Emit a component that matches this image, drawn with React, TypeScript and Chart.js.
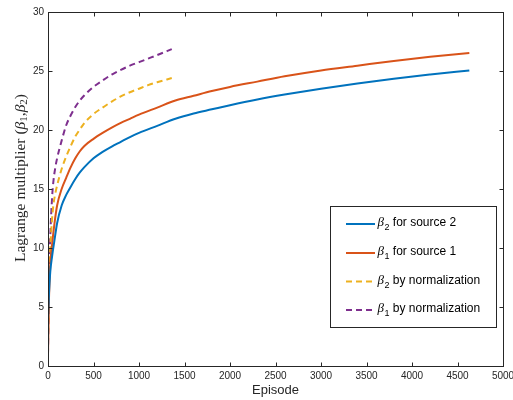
import React, { useEffect, useRef } from "react";
import { Chart, registerables } from "chart.js";

Chart.register(...registerables);

const episodesSolid = [0, 10, 25, 45, 70, 100, 150, 200, 250, 300, 350, 400, 500, 600, 700, 800, 900, 1000, 1200, 1400, 1600, 1800, 2000, 2300, 2600, 3000, 3400, 3800, 4200, 4630];
const beta2Source2 = [4.0, 6.0, 8.0, 9.3, 10.6, 12.1, 13.6, 14.5, 15.2, 15.85, 16.4, 16.85, 17.6, 18.15, 18.6, 19.0, 19.4, 19.75, 20.35, 20.95, 21.4, 21.75, 22.1, 22.58, 23.0, 23.5, 23.95, 24.35, 24.7, 25.05];
const beta1Source1 = [1.0, 5.5, 8.6, 10.3, 12.0, 13.6, 15.0, 15.95, 16.85, 17.6, 18.2, 18.65, 19.25, 19.75, 20.2, 20.6, 20.95, 21.3, 21.9, 22.5, 22.9, 23.3, 23.65, 24.1, 24.55, 25.05, 25.45, 25.85, 26.2, 26.52];

const episodesNorm = [0, 10, 25, 45, 60, 80, 100, 150, 200, 250, 300, 350, 400, 500, 600, 700, 800, 900, 1000, 1100, 1200, 1360];
const beta2Norm = [2.0, 6.5, 10.0, 12.5, 13.7, 14.6, 15.3, 16.7, 17.75, 18.65, 19.45, 20.05, 20.6, 21.35, 21.9, 22.4, 22.85, 23.2, 23.5, 23.8, 24.05, 24.4];
const beta1Norm = [1.0, 7.0, 11.0, 14.3, 15.7, 16.8, 17.6, 19.1, 20.4, 21.25, 21.95, 22.5, 22.95, 23.65, 24.2, 24.7, 25.1, 25.45, 25.75, 26.05, 26.35, 26.85];

const xTicks = [0, 500, 1000, 1500, 2000, 2500, 3000, 3500, 4000, 4500, 5000];
const yTicks = [0, 5, 10, 15, 20, 25, 30];

const legendItems = [
  { sub: "2", text: " for source 2", color: "#0072BD", dash: [] as number[] },
  { sub: "1", text: " for source 1", color: "#D95319", dash: [] as number[] },
  { sub: "2", text: " by normalization", color: "#EDB120", dash: [6, 4] },
  { sub: "1", text: " by normalization", color: "#7E2F8E", dash: [6, 4] },
];

const SANS = '"Liberation Sans", Arial, sans-serif';
const SERIF = '"Liberation Serif", "Times New Roman", serif';
const AXIS = "#262626";

const toPts = (xs: number[], ys: number[]) => xs.map((x, i) => ({ x, y: ys[i] }));

const decorPlugin = {
  id: "decor",
  afterDatasetsDraw(chart: any) {
    const ctx = chart.ctx as CanvasRenderingContext2D;
    const a = chart.chartArea;
    const xs = chart.scales.x;
    const ys = chart.scales.y;
    ctx.save();
    ctx.strokeStyle = AXIS;
    ctx.lineWidth = 1;
    ctx.setLineDash([]);
    const L = Math.round(a.left) + 0.5, R = Math.round(a.right) + 0.5;
    const T = Math.round(a.top) + 0.5, B = Math.round(a.bottom) + 0.5;
    ctx.strokeRect(L, T, R - L, B - T);
    const tl = 4;
    ctx.beginPath();
    xTicks.forEach((v) => {
      const px = Math.round(xs.getPixelForValue(v)) + 0.5;
      ctx.moveTo(px, B); ctx.lineTo(px, B - tl);
      ctx.moveTo(px, T); ctx.lineTo(px, T + tl);
    });
    yTicks.forEach((v) => {
      const py = Math.round(ys.getPixelForValue(v)) + 0.5;
      ctx.moveTo(L, py); ctx.lineTo(L + tl, py);
      ctx.moveTo(R, py); ctx.lineTo(R - tl, py);
    });
    ctx.stroke();

    ctx.fillStyle = AXIS;
    ctx.font = `13px ${SANS}`;
    ctx.textAlign = "center";
    ctx.textBaseline = "middle";
    ctx.fillText("Episode", (a.left + a.right) / 2, 390);

    const parts: { t: string; font: string; dy: number }[] = [
      { t: "Lagrange multiplier (", font: `15.5px ${SERIF}`, dy: 0 },
      { t: "β", font: `italic 15.5px ${SERIF}`, dy: 0 },
      { t: "1", font: `11px ${SERIF}`, dy: 3.5 },
      { t: ",", font: `15.5px ${SERIF}`, dy: 0 },
      { t: "β", font: `italic 15.5px ${SERIF}`, dy: 0 },
      { t: "2", font: `11px ${SERIF}`, dy: 3.5 },
      { t: ")", font: `15.5px ${SERIF}`, dy: 0 },
    ];
    let total = 0;
    parts.forEach((p) => { ctx.font = p.font; total += ctx.measureText(p.t).width; });
    ctx.save();
    ctx.translate(21, 178);
    ctx.rotate(-Math.PI / 2);
    ctx.textAlign = "left";
    ctx.textBaseline = "middle";
    let cx = -total / 2;
    parts.forEach((p) => {
      ctx.font = p.font;
      ctx.fillText(p.t, cx, p.dy);
      cx += ctx.measureText(p.t).width;
    });
    ctx.restore();

    const bx = 330.5, by = 206.5, bw = 166, bh = 121;
    ctx.fillStyle = "#ffffff";
    ctx.fillRect(bx, by, bw, bh);
    ctx.strokeStyle = AXIS;
    ctx.lineWidth = 1;
    ctx.strokeRect(bx, by, bw, bh);
    const rowY = [224, 253, 281.5, 310];
    legendItems.forEach((it, i) => {
      const y = rowY[i];
      ctx.strokeStyle = it.color;
      ctx.lineWidth = 2;
      ctx.setLineDash(it.dash);
      ctx.beginPath();
      ctx.moveTo(346, y);
      ctx.lineTo(375, y);
      ctx.stroke();
      ctx.setLineDash([]);
      ctx.fillStyle = "#000000";
      ctx.textAlign = "left";
      ctx.textBaseline = "middle";
      let x = 377.5;
      ctx.font = `italic 13px ${SERIF}`;
      ctx.fillText("β", x, y - 1);
      x += ctx.measureText("β").width + 0.5;
      ctx.font = `9px ${SANS}`;
      ctx.fillText(it.sub, x, y + 4);
      x += ctx.measureText(it.sub).width;
      ctx.font = `12px ${SANS}`;
      ctx.fillText(it.text, x, y - 1);
    });
    ctx.restore();
  },
};

export default function App() {
  const ref = useRef<HTMLCanvasElement | null>(null);
  useEffect(() => {
    document.body.style.margin = "0";
    const canvas = ref.current!;
    const tickFont = { family: SANS, size: 10 };
    const chart = new Chart(canvas, {
      type: "line",
      data: {
        datasets: [
          { data: toPts(episodesSolid, beta2Source2), borderColor: "#0072BD", borderWidth: 2, pointRadius: 0, cubicInterpolationMode: "monotone", fill: false },
          { data: toPts(episodesSolid, beta1Source1), borderColor: "#D95319", borderWidth: 2, pointRadius: 0, cubicInterpolationMode: "monotone", fill: false },
          { data: toPts(episodesNorm, beta2Norm), borderColor: "#EDB120", borderWidth: 2, borderDash: [6, 4], pointRadius: 0, cubicInterpolationMode: "monotone", fill: false },
          { data: toPts(episodesNorm, beta1Norm), borderColor: "#7E2F8E", borderWidth: 2, borderDash: [6, 4], pointRadius: 0, cubicInterpolationMode: "monotone", fill: false },
        ],
      } as any,
      options: {
        responsive: false,
        animation: false,
        layout: { padding: { top: 12, right: 10, left: 0, bottom: 0 } },
        scales: {
          x: {
            type: "linear",
            min: 0,
            max: 5000,
            afterBuildTicks: (s: any) => { s.ticks = xTicks.map((v) => ({ value: v })); },
            ticks: { font: tickFont, color: AXIS, padding: 4, maxRotation: 0, autoSkip: false, callback: (v: any) => String(v) },
            grid: { display: false, drawTicks: false },
            border: { display: false },
            afterFit: (s: any) => { s.height = 34; s.paddingLeft = 0; s.paddingRight = 0; },
          },
          y: {
            type: "linear",
            min: 0,
            max: 30,
            afterBuildTicks: (s: any) => { s.ticks = yTicks.map((v) => ({ value: v })); },
            ticks: { font: tickFont, color: AXIS, padding: 4, autoSkip: false, callback: (v: any) => String(v) },
            grid: { display: false, drawTicks: false },
            border: { display: false },
            afterFit: (s: any) => { s.width = 48; s.paddingTop = 0; s.paddingBottom = 0; },
          },
        },
        plugins: { legend: { display: false }, tooltip: { enabled: false } },
      } as any,
      plugins: [decorPlugin],
    });
    return () => chart.destroy();
  }, []);
  return <canvas ref={ref} width={513} height={400} style={{ display: "block" }} />;
}
